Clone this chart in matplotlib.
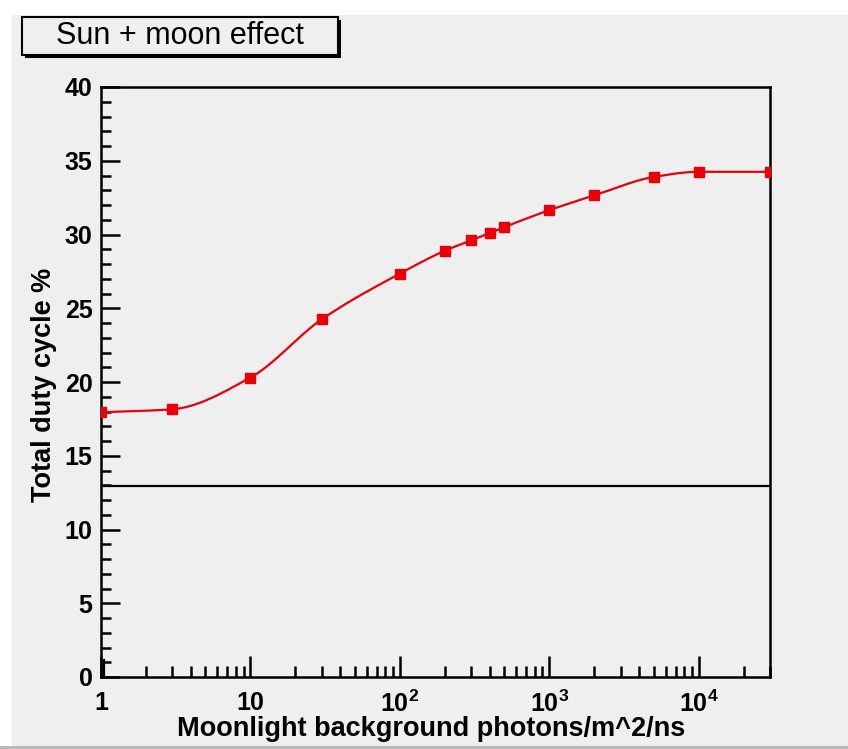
import numpy as np
import matplotlib
matplotlib.use("Agg")
import matplotlib.pyplot as plt
from matplotlib.patches import Rectangle
from matplotlib.ticker import FixedLocator, NullFormatter

plt.rcParams["font.family"] = ["Liberation Sans", "DejaVu Sans"]
plt.rcParams["mathtext.fontset"] = "custom"
plt.rcParams["mathtext.rm"] = "Liberation Sans:bold"
plt.rcParams["mathtext.bf"] = "Liberation Sans:bold"

# duty cycle vs. moonlight background
photons = [1, 3, 10, 30, 100, 200, 300, 400, 500, 1000, 2000, 5000, 10000, 30000]
duty_cycle = [17.95, 18.15, 20.3, 24.25, 27.35, 28.9, 29.6, 30.1, 30.5, 31.65, 32.65, 33.9, 34.25, 34.25]

# sun-only reference level
ref_x = [1.05, 30000]
ref_y = [12.95, 12.95]
ref_tick_x = [1.05, 1.05]
ref_tick_y = [0, 1.15]

major_x = [1, 10, 100, 1000, 10000]
major_x_labels = ["1", "10", r"$10^{2}$", r"$10^{3}$", r"$10^{4}$"]
y_ticks = [0, 5, 10, 15, 20, 25, 30, 35, 40]


def pchip(x, y, xs):
    # monotone cubic (Fritsch-Carlson) used for the smooth curve
    x = np.asarray(x, float)
    y = np.asarray(y, float)
    h = np.diff(x)
    d = np.diff(y) / h
    m = np.zeros_like(y)
    for i in range(1, len(x) - 1):
        if d[i - 1] * d[i] > 0:
            w1 = 2 * h[i] + h[i - 1]
            w2 = h[i] + 2 * h[i - 1]
            m[i] = (w1 + w2) / (w1 / d[i - 1] + w2 / d[i])
    m[0] = d[0] if d[0] * d[min(1, len(d) - 1)] > 0 else 0
    m[-1] = d[-1] if d[-1] * d[-2] > 0 else 0
    idx = np.clip(np.searchsorted(x, xs) - 1, 0, len(x) - 2)
    t = (xs - x[idx]) / h[idx]
    h00 = 2 * t**3 - 3 * t**2 + 1
    h10 = t**3 - 2 * t**2 + t
    h01 = -2 * t**3 + 3 * t**2
    h11 = t**3 - t**2
    return h00 * y[idx] + h10 * h[idx] * m[idx] + h01 * y[idx + 1] + h11 * h[idx] * m[idx + 1]


W, H = 848, 749
fig = plt.figure(figsize=(W / 100, H / 100), dpi=100)
fig.patch.set_facecolor("#efefef")

# white strips and bottom edge of the canvas
fig.patches.append(Rectangle((0, 1 - 15 / H), 1, 15 / H, transform=fig.transFigure,
                             facecolor="white", edgecolor="none", zorder=0))
fig.patches.append(Rectangle((0, 0), 12 / W, 1, transform=fig.transFigure,
                             facecolor="white", edgecolor="none", zorder=0))
fig.patches.append(Rectangle((0, 0), 1, 3 / H, transform=fig.transFigure,
                             facecolor="#b8b8b8", edgecolor="none", zorder=0))

ax = fig.add_axes([101 / W, 1 - 677 / H, 669 / W, 590 / H])
ax.set_facecolor("#efefef")
ax.set_xscale("log")
ax.set_xlim(1, 30000)
ax.set_ylim(0, 40)

lx = np.log10(photons)
xs = np.linspace(lx[0], lx[-1], 400)
ax.plot(10 ** xs, pchip(lx, duty_cycle, xs), color="#e8000b", lw=1.6, zorder=3)
ax.plot(photons, duty_cycle, ls="none", marker="s", ms=7, color="#e8000b", zorder=4)

ax.plot(ref_x, ref_y, color="black", lw=1.6, zorder=2)
ax.plot(ref_tick_x, ref_tick_y, color="black", lw=1.6, zorder=2)

for s in ax.spines.values():
    s.set_linewidth(1.8)

ax.xaxis.set_major_locator(FixedLocator(major_x))
ax.set_xticklabels(major_x_labels)
minor = [k * 10 ** e for e in range(0, 5) for k in range(2, 10) if k * 10 ** e <= 30000]
ax.xaxis.set_minor_locator(FixedLocator(minor))
ax.xaxis.set_minor_formatter(NullFormatter())
ax.set_yticks(y_ticks)
ax.yaxis.set_minor_locator(FixedLocator(np.arange(0, 40, 1)))

ax.tick_params(axis="both", which="both", direction="in", top=False, right=False, width=1.8)
ax.tick_params(axis="x", which="major", length=15, pad=10, labelsize=18)
ax.tick_params(axis="x", which="minor", length=8)
ax.tick_params(axis="y", which="major", length=14, pad=6, labelsize=18)
ax.tick_params(axis="y", which="minor", length=7)
for lab in ax.get_xticklabels() + ax.get_yticklabels():
    lab.set_fontweight("bold")

ax.set_xlabel("Moonlight background photons/m^2/ns", fontsize=19.5, fontweight="bold", va="center")
ax.xaxis.set_label_coords(0.493, -0.088)
ax.set_ylabel("Total duty cycle %", fontsize=19.5, fontweight="bold", va="center")
ax.yaxis.set_label_coords(-0.085, 0.495)

# title pave with drop shadow
bx0, by0, bw, bh = 22, 17, 316, 38
fig.patches.append(Rectangle(((bx0 + 3) / W, 1 - (by0 + bh + 3) / H), bw / W, bh / H,
                             transform=fig.transFigure, facecolor="black", edgecolor="none", zorder=5))
fig.patches.append(Rectangle((bx0 / W, 1 - (by0 + bh) / H), bw / W, bh / H,
                             transform=fig.transFigure, facecolor="#efefef", edgecolor="black",
                             lw=1.5, zorder=6))
fig.text((bx0 + bw / 2) / W, 1 - (by0 + bh / 2) / H, "Sun + moon effect",
         ha="center", va="center", fontsize=22, zorder=7)

fig.savefig("out.png", dpi=100, facecolor=fig.get_facecolor())
